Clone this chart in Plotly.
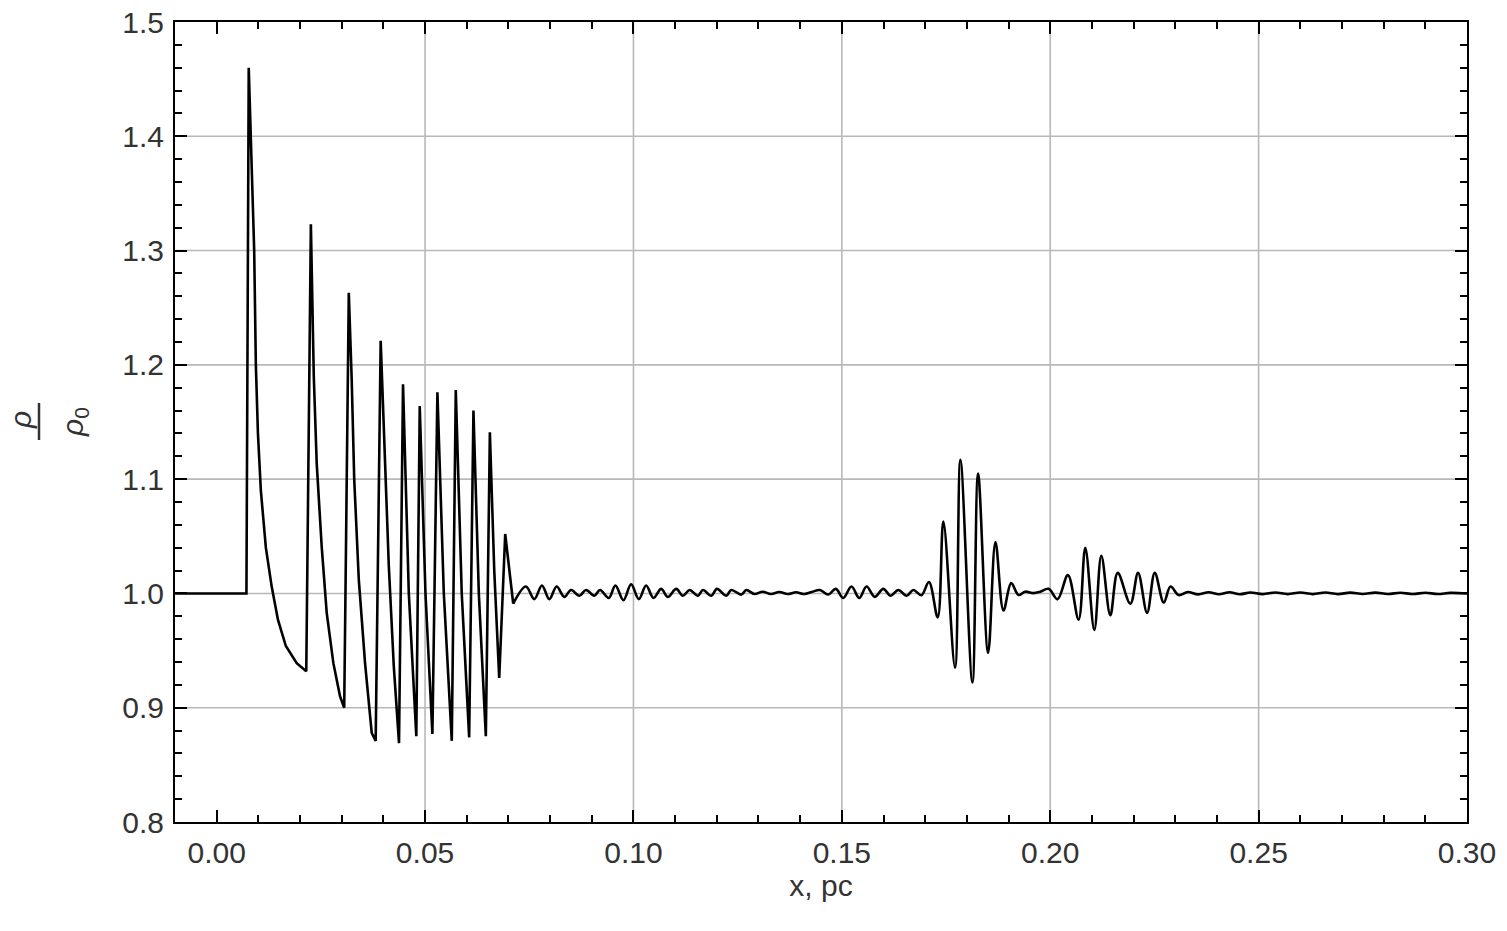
import plotly.graph_objects as go

# ---- data (x in pc, density ratio rho/rho0) ----
x_pc = [
    -0.0101, 0.00714, 0.00769, 0.0090, 0.0094, 0.0099, 0.0106, 0.0118, 0.0132, 0.0147, 0.0166, 0.0192, 0.0215,
    0.0226, 0.0233, 0.0240, 0.0252, 0.0264, 0.0280, 0.0296, 0.0306,
    0.0317, 0.0324, 0.0330, 0.0341, 0.0356, 0.0372, 0.03815,
    0.03935, 0.0413, 0.0425, 0.04375,
    0.04471, 0.0461, 0.0479,
    0.04872, 0.0501, 0.05176,
    0.05296, 0.0545, 0.05641,
    0.05737, 0.0588, 0.06058,
    0.06161, 0.0629, 0.06458,
    0.06555, 0.0666, 0.06779,
    0.06923, 0.07115,
    0.07420, 0.07620, 0.07804, 0.07981, 0.08157, 0.08341, 0.08502, 0.08702, 0.08862, 0.09062,
    0.09199, 0.09407, 0.09567, 0.09760, 0.09944, 0.10128, 0.10304, 0.10481, 0.10665, 0.10825,
    0.11026, 0.11186, 0.11346, 0.11546, 0.11667, 0.11867, 0.12003, 0.12228, 0.12348, 0.12589,
    0.12709, 0.1290, 0.1310, 0.1330, 0.1350, 0.1370, 0.1390, 0.1410, 0.1428,
    0.14471, 0.14671, 0.14856, 0.15032, 0.15232, 0.15417, 0.15593, 0.15793, 0.15994, 0.16170,
    0.16354, 0.16555, 0.16715, 0.16910,
    0.17090, 0.17300, 0.17436, 0.17716, 0.17845, 0.18133, 0.18269, 0.18510, 0.18686, 0.18878,
    0.19063, 0.19239, 0.19399, 0.19599, 0.19760, 0.19960, 0.20176,
    0.20425, 0.20681, 0.20841, 0.21058, 0.21226, 0.21442, 0.21619, 0.21923, 0.22108, 0.22324,
    0.22508, 0.22724, 0.22885, 0.23085,
    0.2330, 0.2355, 0.2380, 0.2405, 0.2430, 0.2455, 0.2480, 0.2510, 0.2540, 0.2570,
    0.2600, 0.2630, 0.2660, 0.2690, 0.2720, 0.2750, 0.2780, 0.2810, 0.2840, 0.2870,
    0.2900, 0.2930, 0.2960, 0.3000,
]
rho_ratio = [
    1.000, 1.000, 1.460, 1.300, 1.200, 1.140, 1.090, 1.040, 1.006, 0.977, 0.954, 0.939, 0.932,
    1.323, 1.190, 1.114, 1.041, 0.983, 0.939, 0.910, 0.900,
    1.263, 1.187, 1.100, 1.012, 0.939, 0.878, 0.871,
    1.221, 1.024, 0.936, 0.869,
    1.183, 1.000, 0.875,
    1.164, 1.000, 0.877,
    1.176, 1.000, 0.871,
    1.178, 1.000, 0.874,
    1.160, 1.000, 0.875,
    1.141, 1.020, 0.926,
    1.052, 0.991,
    1.006, 0.995, 1.007, 0.995, 1.006, 0.997, 1.003, 0.998, 1.003, 0.998,
    1.003, 0.996, 1.007, 0.994, 1.008, 0.995, 1.007, 0.996, 1.004, 0.997,
    1.004, 0.998, 1.003, 0.998, 1.003, 0.998, 1.004, 0.998, 1.003, 0.999,
    1.003, 0.9995, 1.0015, 0.9995, 1.0012, 0.9995, 1.001, 0.9995, 1.0012,
    1.003, 0.999, 1.004, 0.996, 1.006, 0.996, 1.006, 0.997, 1.004, 0.998,
    1.003, 0.998, 1.003, 0.9985,
    1.010, 0.979, 1.063, 0.935, 1.117, 0.922, 1.105, 0.948, 1.045, 0.985,
    1.009, 0.9986, 1.0015, 1.0003, 1.0015, 1.004, 0.995,
    1.016, 0.977, 1.040, 0.968, 1.033, 0.981, 1.018, 0.991, 1.018, 0.983,
    1.018, 0.992, 1.006, 0.9986,
    1.0012, 0.9992, 1.0010, 0.9993, 1.0010, 0.9993, 1.0008, 0.9994, 1.0008, 0.9994,
    1.0008, 0.9994, 1.0008, 0.9994, 1.0007, 0.9995, 1.0007, 0.9995, 1.0006, 0.9995,
    1.0006, 0.9995, 1.0005, 1.000,
]
# the steep shock train (drawn with straight segments) ends at this sample
shock_end_x = 0.07115

x_range = [-0.0100, 0.30]
y_range = [0.8, 1.5]
x_ticks = [0.00, 0.05, 0.10, 0.15, 0.20, 0.25, 0.30]
x_tick_labels = ["0.00", "0.05", "0.10", "0.15", "0.20", "0.25", "0.30"]
y_ticks = [0.8, 0.9, 1.0, 1.1, 1.2, 1.3, 1.4, 1.5]
y_tick_labels = ["0.8", "0.9", "1.0", "1.1", "1.2", "1.3", "1.4", "1.5"]
grid_x = [0.05, 0.10, 0.15, 0.20, 0.25]
grid_y = [0.9, 1.0, 1.1, 1.2, 1.3, 1.4]
x_title = "x, pc"

FONT = "Liberation Sans, Arial, Helvetica, sans-serif"
TXT = "#333333"
GRID = "#b8b8b8"

# figure geometry (page margin removed by post_script, so page px == figure px)
W, H = 1507, 931
ML, MR, MT, MB = 175, 40, 22, 109
PW, PH = W - ML - MR, H - MT - MB


def px(page_x):
    return (page_x - ML) / PW


def py(page_y):
    return (H - MB - page_y) / PH


split = x_pc.index(shock_end_x) + 1

fig = go.Figure()
fig.add_trace(go.Scatter(
    x=x_pc[:split], y=rho_ratio[:split], mode="lines",
    line=dict(color="black", width=2.6, shape="linear"),
    showlegend=False, hoverinfo="skip",
))
fig.add_trace(go.Scatter(
    x=x_pc[split - 1:], y=rho_ratio[split - 1:], mode="lines",
    line=dict(color="black", width=2.6, shape="spline", smoothing=1.0),
    showlegend=False, hoverinfo="skip",
))

shapes = []
for gx in grid_x:
    shapes.append(dict(type="line", xref="x", yref="paper", x0=gx, x1=gx, y0=0, y1=1,
                       line=dict(color=GRID, width=1.6), layer="below"))
for gy in grid_y:
    shapes.append(dict(type="line", xref="paper", yref="y", x0=0, x1=1, y0=gy, y1=gy,
                       line=dict(color=GRID, width=1.6), layer="below"))
# fraction bar of the y label
shapes.append(dict(type="line", xref="paper", yref="paper",
                   x0=px(39), x1=px(39), y0=py(440), y1=py(403),
                   line=dict(color=TXT, width=2.5)))

annotations = [
    dict(text="<i>ρ</i>", xref="paper", yref="paper", x=px(20), y=py(420),
         textangle=-90, showarrow=False, font=dict(family=FONT, size=30, color=TXT),
         xanchor="center", yanchor="middle"),
    dict(text="<i>ρ</i><sub>0</sub>", xref="paper", yref="paper", x=px(74), y=py(422),
         textangle=-90, showarrow=False, font=dict(family=FONT, size=30, color=TXT),
         xanchor="center", yanchor="middle"),
]

fig.update_layout(
    width=W, height=H,
    margin=dict(l=ML, r=MR, t=MT, b=MB, autoexpand=False),
    paper_bgcolor="white", plot_bgcolor="white",
    font=dict(family=FONT, size=30, color=TXT),
    shapes=shapes, annotations=annotations,
    xaxis=dict(
        range=x_range, tickmode="array", tickvals=x_ticks, ticktext=x_tick_labels,
        ticks="inside", ticklen=12, tickwidth=2, tickcolor="black",
        minor=dict(tickmode="linear", tick0=0, dtick=0.01, ticks="inside", ticklen=7,
                   tickwidth=1.5, tickcolor="black", showgrid=False),
        showgrid=False, zeroline=False, automargin=False, ticklabeloverflow="allow",
        showline=True, linecolor="black", linewidth=2, mirror="ticks",
        ticklabelstandoff=3,
        title=dict(text=x_title, standoff=0, font=dict(family=FONT, size=30, color=TXT)),
    ),
    yaxis=dict(
        range=y_range, tickmode="array", tickvals=y_ticks, ticktext=y_tick_labels,
        ticks="inside", ticklen=12, tickwidth=2, tickcolor="black",
        minor=dict(tickmode="linear", tick0=0.8, dtick=0.02, ticks="inside", ticklen=7,
                   tickwidth=1.5, tickcolor="black", showgrid=False),
        showgrid=False, zeroline=False, automargin=False, ticklabeloverflow="allow",
        showline=True, linecolor="black", linewidth=2, mirror="ticks",
        ticklabelstandoff=3,
    ),
)

fig.write_html("out.html", config={"displayModeBar": False},
               post_script="document.body.style.margin='0px';")
